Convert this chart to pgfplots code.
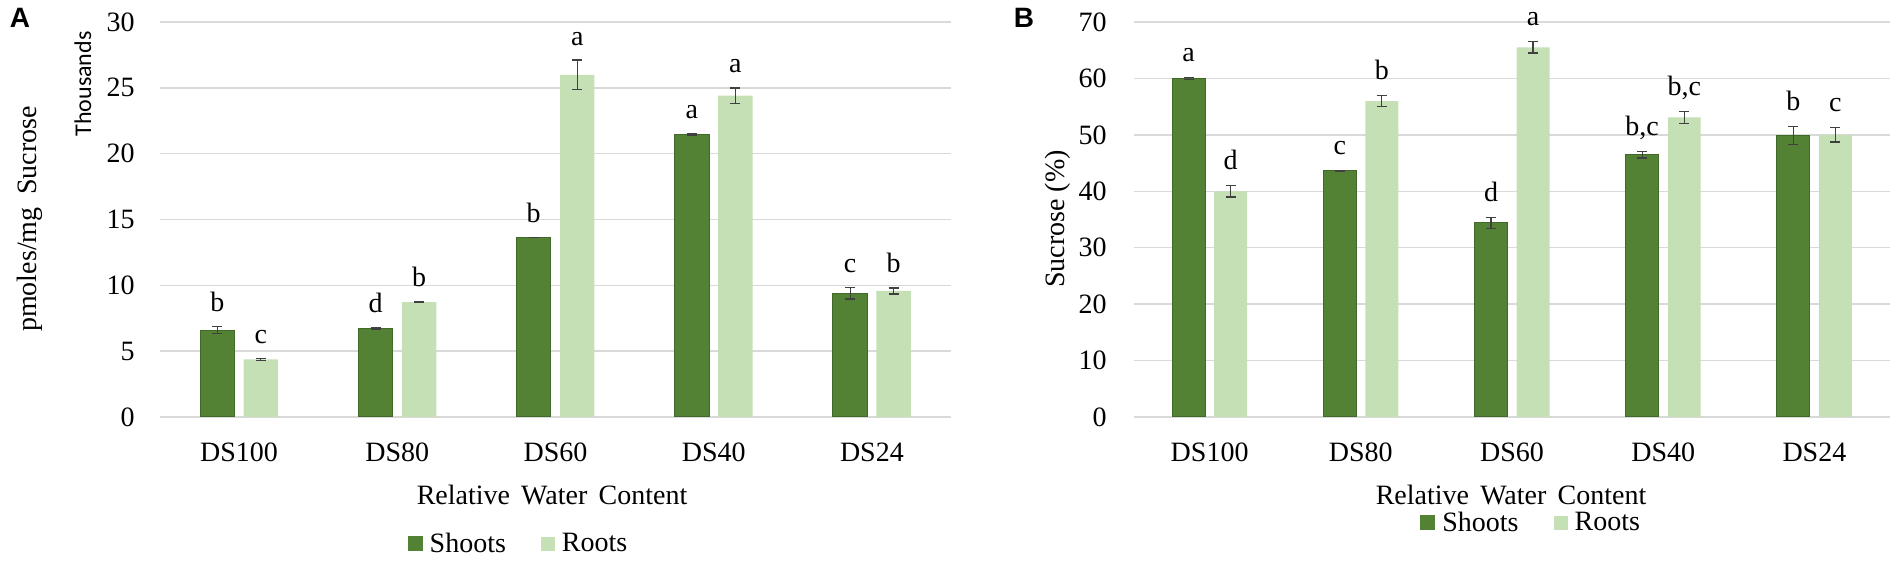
\documentclass[border=0pt]{standalone}
\usepackage{fontspec}
\setmainfont{Liberation Serif}
\newfontfamily\calibri{Carlito}
\newfontfamily\arialfont{Liberation Sans}
\usepackage{pgfplots}
\usepackage{pgfplotstable}
\pgfplotsset{compat=1.18}
\definecolor{shoot}{HTML}{548235}
\definecolor{shootedge}{HTML}{41692A}
\definecolor{root}{HTML}{C5E0B4}
\definecolor{gridc}{HTML}{D9D9D9}
\definecolor{errc}{HTML}{404040}

\pgfplotstableread{
x s se sl r re rl
0 6.60 0.25 b 4.38 0.06 c
1 6.74 0.05 d 8.73 0.05 b
2 13.62 0.00 b 25.98 1.13 a
3 21.47 0.05 a 24.41 0.58 a
4 9.41 0.45 c 9.57 0.23 b
}\dataA

\pgfplotstableread{
x s se sl r re rl
0 60.0 0.15 a 40.0 1.0 d
1 43.6 0.15 c 56.0 1.0 b
2 34.4 1.0 d 65.5 1.0 a
3 46.5 0.6 b,c 53.1 1.1 b,c
4 49.9 1.6 b 50.0 1.25 c
}\dataB

\newcommand{\fs}{\fontsize{14}{16}\selectfont}

\pgfplotsset{
 mystyle/.style={
  scale only axis, clip=false,
  xmin=-0.5, xmax=4.5, ymin=0,
  xtick={0,...,4}, xticklabels={DS100,DS80,DS60,DS40,DS24},
  ymajorgrids, major grid style={draw=gridc, line width=0.75pt},
  axis line style={draw=none}, major tick length=0pt,
  /pgf/number format/assume math mode=true,
  ticklabel style={font=\fs},
  xticklabel style={anchor=center, yshift=-17.5pt, inner sep=0pt},
  legend style={draw=none, fill=none, legend columns=2, inner sep=0pt,
    font=\fs, nodes={inner sep=0pt},
    /tikz/every odd column/.append style={column sep=3.5pt},
    /tikz/every even column/.append style={column sep=17.5pt}},
 },
 shootbar/.style={ybar, bar width=0.218, bar shift=0pt, fill=shoot, draw=shootedge, line width=0.5pt,
   legend image code/.code={\fill[shoot] (0pt,-3.5pt) rectangle (7pt,3.5pt);},
   error bars/.cd, y dir=both, y explicit, error bar style={errc, line width=0.6pt},
   error mark options={rotate=90, errc, line width=0.6pt, mark size=2.5pt}},
 rootbar/.style={ybar, bar width=0.218, bar shift=0pt, fill=root, draw=none,
   legend image code/.code={\fill[root] (0pt,-3.5pt) rectangle (7pt,3.5pt);},
   error bars/.cd, y dir=both, y explicit, error bar style={errc, line width=0.6pt},
   error mark options={rotate=90, errc, line width=0.6pt, mark size=2.5pt}},
 lab/.style={draw=none, mark=none, forget plot, nodes near coords, point meta=explicit symbolic,
   nodes near coords style={anchor=base, inner sep=0pt, yshift=#1, font=\fs, text=black}},
}

\begin{document}
\begin{tikzpicture}
\path[use as bounding box] (0,0) rectangle (950pt,283.5pt);

% Panel A
\begin{axis}[mystyle, at={(80pt,75pt)}, anchor=south west,
  width=395.5pt, height=197.5pt, ymax=30, ytick={0,5,...,30},
  yticklabel style={anchor=east, inner sep=0pt, xshift=-12.5pt},
  legend style={at={(axis description cs:0.452,-0.3215)}, anchor=center}]
\addplot[shootbar] table[x expr=\thisrow{x}-0.1375, y=s, y error=se] {\dataA};
\addlegendentry{Shoots}
\addplot[rootbar] table[x expr=\thisrow{x}+0.1375, y=r, y error=re] {\dataA};
\addlegendentry{Roots}
\addplot[lab=7.5pt] table[x expr=\thisrow{x}-0.1375, y expr=\thisrow{s}+\thisrow{se}, meta=sl] {\dataA};
\addplot[lab=7.5pt] table[x expr=\thisrow{x}+0.1375, y expr=\thisrow{r}+\thisrow{re}, meta=rl] {\dataA};
\end{axis}

% Panel B
\begin{axis}[mystyle, at={(567pt,75pt)}, anchor=south west,
  width=378pt, height=197.5pt, ymax=70, ytick={0,10,...,70},
  yticklabel style={anchor=east, inner sep=0pt, xshift=-13.5pt},
  legend style={at={(axis description cs:0.524,-0.268)}, anchor=center}]
\addplot[shootbar] table[x expr=\thisrow{x}-0.139, y=s, y error=se] {\dataB};
\addlegendentry{Shoots}
\addplot[rootbar] table[x expr=\thisrow{x}+0.139, y=r, y error=re] {\dataB};
\addlegendentry{Roots}
\addplot[lab=8pt] table[x expr=\thisrow{x}-0.139, y expr=\thisrow{s}+\thisrow{se}, meta=sl] {\dataB};
\addplot[lab=8pt] table[x expr=\thisrow{x}+0.139, y expr=\thisrow{r}+\thisrow{re}, meta=rl] {\dataB};
\end{axis}

% Text
\node[font=\arialfont\bfseries\fs] at (10pt,274.5pt) {A};
\node[font=\arialfont\bfseries\fs] at (512pt,274.5pt) {B};
\node[font=\calibri\fontsize{12}{14}\selectfont, rotate=90] at (41.5pt,241.5pt) {Thousands};
\node[font=\fs, rotate=90] at (15pt,174pt) {pmoles/mg\hspace{0.45em}Sucrose};
\node[font=\fs, rotate=90] at (528.75pt,174pt) {Sucrose (\%)};
\node[font=\fs] at (276pt,36pt) {Relative\hspace{0.4em}Water\hspace{0.4em}Content};
\node[font=\fs] at (755.5pt,36pt) {Relative\hspace{0.4em}Water\hspace{0.4em}Content};
\end{tikzpicture}
\end{document}
